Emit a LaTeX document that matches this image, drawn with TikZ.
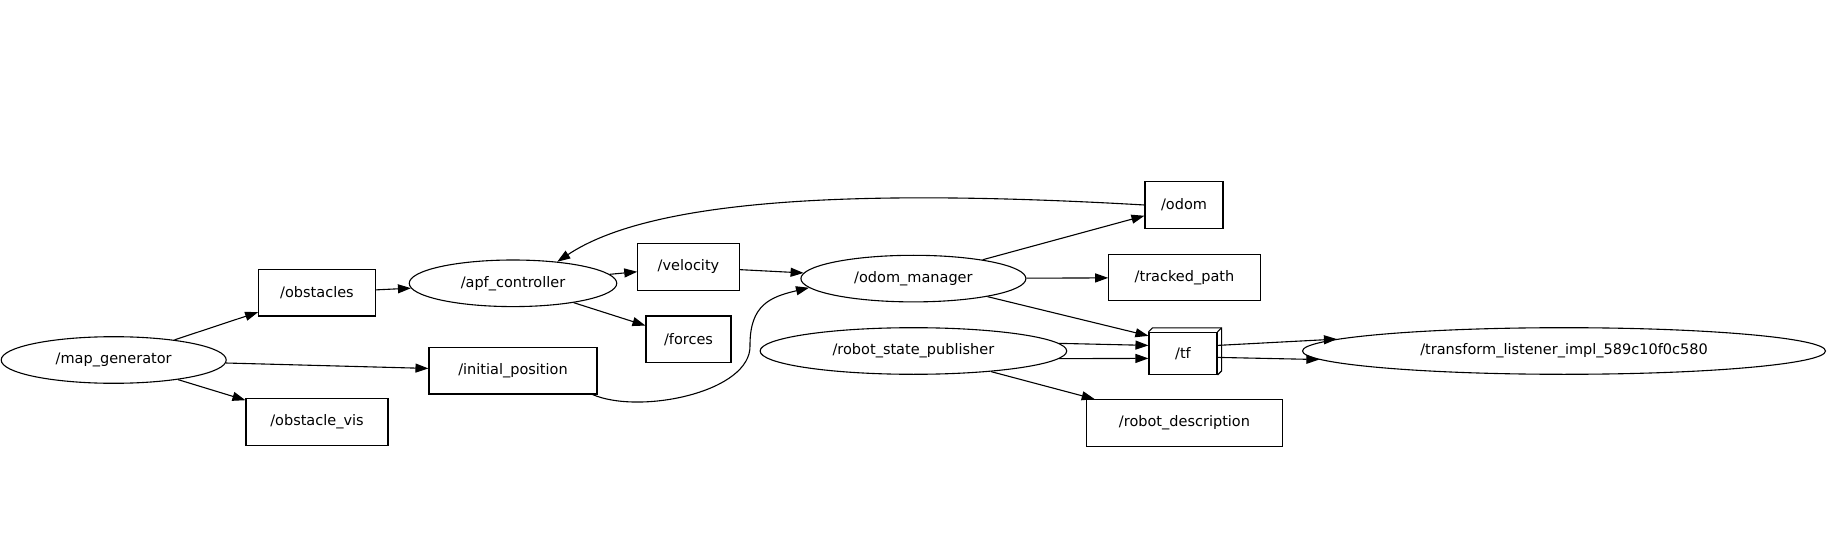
\documentclass[tikz,border=0pt]{standalone}
\usepackage{fontspec}
\setmainfont{DejaVu Sans}
\usepackage{tikz}
\usetikzlibrary{arrows.meta,shapes.geometric}

\begin{document}
\begin{tikzpicture}[x=1pt,y=-1pt,>={Triangle[length=13pt,width=9pt]},line width=1.1pt,
  rosnode/.style={ellipse,draw,inner sep=0pt,minimum height=46.6pt,font=\fontsize{14.5}{17}\selectfont},
  topic/.style={rectangle,draw,inner sep=0pt,minimum height=46.6pt,font=\fontsize{14.5}{17}\selectfont}]
  \useasboundingbox (0,0) rectangle (1828,537);
  \node[rosnode,minimum width=225pt] (mapgen) at (113.7,360) {/map\_generator};
  \node[topic,minimum width=116.6pt] (obst) at (317,292.7) {/obstacles};
  \node[topic,minimum width=142pt] (obstvis) at (317,422) {/obstacle\_vis};
  \node[topic,minimum width=168pt] (initpos) at (513,370.7) {/initial\_position};
  \node[rosnode,minimum width=207.5pt] (apf) at (513,283.3) {/apf\_controller};
  \node[topic,minimum width=101.4pt] (vel) at (688.5,267) {/velocity};
  \node[topic,minimum width=85pt] (forces) at (688.5,339.3) {/forces};
  \node[rosnode,minimum width=225pt] (om) at (913.4,278.6) {/odom\_manager};
  \node[rosnode,minimum width=306.6pt] (rsp) at (913.4,351) {/robot\_state\_publisher};
  \node[topic,minimum width=78pt] (odom) at (1184,205) {/odom};
  \node[topic,minimum width=151.5pt] (tracked) at (1184.5,277.6) {/tracked\_path};
  \node[topic,minimum width=68pt,minimum height=42pt] (tf) at (1183,353.4) {/tf};
  \draw (tf.north west) -- ++(4,-4) -- ([shift={(4pt,4pt)}]tf.north east) -- ([shift={(4pt,4pt)}]tf.south east) -- (tf.south east);
  \draw (tf.north east) -- ++(4,-4);
  \node[topic,minimum width=196pt] (robdesc) at (1184.5,423) {/robot\_description};
  \node[rosnode,minimum width=523pt] (listener) at (1564,351) {/transform\_listener\_impl\_589c10f0c580};

  \draw[->] (mapgen) -- (obst);
  \draw[->] (mapgen) -- (initpos);
  \draw[->] (mapgen) -- (obstvis);
  \draw[->] (obst) -- (apf);
  \draw[->] (apf) -- (vel);
  \draw[->] (apf) -- (forces);
  \draw[->] (vel) -- (om);
  \draw[->] ([xshift=-5pt]initpos.south east) .. controls (640,415) and (752,392) .. (750,345)
    .. controls (750,305) and (770,297) .. (om.185);
  \draw[->] (odom.west) .. controls (850,188) and (650,200) .. (apf.26);
  \draw[->] (om) -- (odom);
  \draw[->] (om) -- (tracked);
  \draw[->] (om) -- ([yshift=-4pt]tf.north west);
  \draw[->] (rsp.3.4) -- ([yshift=8pt]tf.west);
  \draw[->] (rsp.-3.4) -- ([yshift=-5pt]tf.west);
  \draw[->] (rsp) -- (robdesc);
  \draw[->] ([yshift=8pt]tf.east) -- (listener.177.7);
  \draw[->] ([yshift=-4pt]tf.east) -- (listener.182.3);
\end{tikzpicture}
\end{document}
